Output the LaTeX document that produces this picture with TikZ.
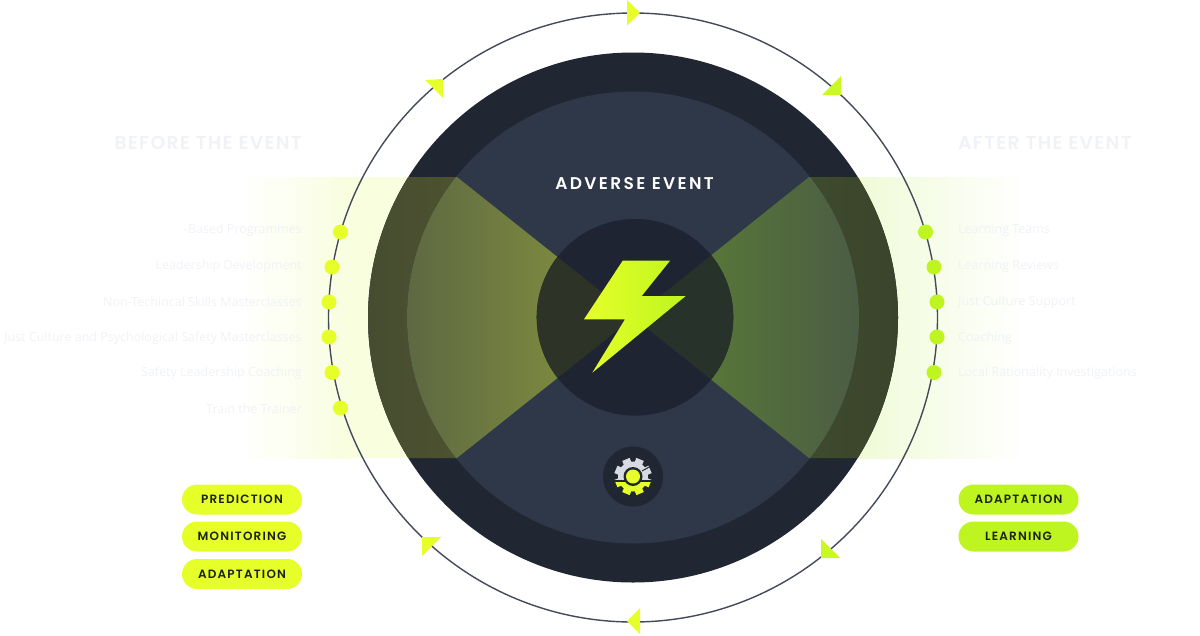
\documentclass[tikz,border=0pt]{standalone}
\usepackage{fontspec}
\usepackage{xcolor}
\setmainfont{Open Sans}
\newfontfamily\pillfont[LetterSpace=10]{Poppins SemiBold}
\newfontfamily\headfont[LetterSpace=7]{Poppins SemiBold}
\newfontfamily\titlefont[LetterSpace=14]{Poppins SemiBold}

\definecolor{ringgrey}{RGB}{68,74,90}
\definecolor{darknavy}{RGB}{32,38,50}
\definecolor{midnavy}{RGB}{46,56,72}
\definecolor{corenavy}{RGB}{30,36,50}
\definecolor{limeleft}{RGB}{230,255,40}
\definecolor{limeright}{RGB}{190,245,32}
\definecolor{palegrey}{RGB}{240,242,246}
\definecolor{pillink}{RGB}{28,32,30}
\definecolor{gearpale}{RGB}{215,218,224}
\definecolor{bandleft}{RGB}{248,254,222}
\definecolor{bandright}{RGB}{240,251,215}
\definecolor{ringleftA}{RGB}{70,76,48}
\definecolor{ringleftB}{RGB}{90,95,45}
\definecolor{ringrightA}{RGB}{70,88,46}
\definecolor{ringrightB}{RGB}{58,68,44}
\definecolor{midleftA}{RGB}{86,96,68}
\definecolor{midleftB}{RGB}{138,152,60}
\definecolor{midrightA}{RGB}{94,130,52}
\definecolor{midrightB}{RGB}{72,86,70}
\definecolor{coreleft}{RGB}{45,51,39}
\definecolor{coreright}{RGB}{38,50,42}

\tikzset{
	itemleft/.style={anchor=east, text=palegrey, font=\fontsize{12.5}{14}\selectfont, inner sep=0pt},
	itemright/.style={anchor=west, text=palegrey, font=\fontsize{12.5}{14}\selectfont, inner sep=0pt},
	headlabel/.style={text=palegrey, font=\fontsize{18.8}{20}\headfont, inner sep=0pt},
	dotleft/.style={circle, fill=limeleft, minimum size=15pt, inner sep=0pt},
	dotright/.style={circle, fill=limeright, minimum size=15pt, inner sep=0pt},
	pillbox/.style={rounded corners=15pt, minimum width=120pt, minimum height=30pt, inner sep=0pt, text=pillink, font=\fontsize{12}{14}\pillfont},
}

\newcommand{\wedgeleft}{(368, 177) -- (457, 177) -- (633.5, 317.5) -- (457, 458) -- (368, 458) -- cycle}
\newcommand{\wedgeright}{(898, 177) -- (809, 177) -- (633.5, 317.5) -- (809, 458) -- (898, 458) -- cycle}
\newcommand{\gearbody}[1]{
	\fill[#1] (633, 476.5) circle (15);
	\foreach \tooth in {0, 45, ..., 315} {
		\fill[#1, rotate around={\tooth+22.5:(633, 476.5)}] (629, 458) rectangle (637, 464);
	}
}

\begin{document}
\begin{tikzpicture}[x=1pt, y=-1pt]
	\useasboundingbox (0, 0) rectangle (1200, 635);

	\shade[left color=white, right color=bandleft] (240, 177) rectangle (350, 458);
	\fill[bandleft] (349.5, 177) rectangle (633, 458);
	\shade[left color=bandright, right color=white] (860, 177) rectangle (1026, 458);
	\fill[bandright] (633, 177) rectangle (860.5, 458);

	\fill[darknavy] (633, 317.5) circle (265);
	\begin{scope}
		\clip (633, 317.5) circle (265);
		\shade[left color=ringleftA, right color=ringleftB] \wedgeleft;
		\shade[left color=ringrightA, right color=ringrightB] \wedgeright;
	\end{scope}

	\fill[midnavy] (633, 317.5) circle (226);
	\begin{scope}
		\clip (633, 317.5) circle (226);
		\shade[left color=midleftA, right color=midleftB] \wedgeleft;
		\shade[left color=midrightA, right color=midrightB] \wedgeright;
	\end{scope}

	\fill[corenavy] (635, 317.3) circle (98.3);
	\begin{scope}
		\clip (635, 317.3) circle (98.3);
		\fill[coreleft] \wedgeleft;
		\fill[coreright] \wedgeright;
	\end{scope}

	\draw[ringgrey, line width=1.4pt] (633, 317.5) circle (304.5);

	\fill[limeleft] (627, 0) -- (640, 13) -- (627, 25.5) -- cycle;
	\fill[limeleft!30!limeright] (841, 76) -- (841, 95) -- (822, 95) -- cycle;
	\fill[limeleft!30!limeright] (821, 539) -- (840, 558) -- (821, 558) -- cycle;
	\fill[limeleft] (640, 608) -- (627, 621) -- (640, 634) -- cycle;
	\fill[limeleft] (422, 537) -- (441, 537) -- (422, 556) -- cycle;
	\fill[limeleft] (425, 80) -- (443, 79) -- (443, 98) -- cycle;

	\shade[left color=limeleft, right color=limeright] (622.7, 260.7) -- (670, 260.7) -- (641.7, 296) -- (685.7, 296) -- (592.3, 372.7) -- (625, 319.3) -- (584, 319.3) -- cycle;

	\node[text=white, font=\fontsize{17}{20}\titlefont, inner sep=0pt] at (634.5, 183.5) (adverse) {ADVERSE EVENT};

	\fill[darknavy] (633, 476.5) circle (30);
	\begin{scope}
		\clip (610, 450) rectangle (656, 479.5);
		\gearbody{gearpale}
	\end{scope}
	\begin{scope}
		\clip (610, 482.5) rectangle (656, 505);
		\gearbody{limeleft}
	\end{scope}
	\draw[darknavy, line width=1pt] (642, 471) -- (651, 466);
	\fill[darknavy] (633, 476.5) circle (9.5);
	\fill[limeleft] (633, 476.5) circle (7);

	\node[headlabel, anchor=east] at (302, 143) (before) {BEFORE THE EVENT};
	\node[headlabel, anchor=west] at (958, 143) (after) {AFTER THE EVENT};

	\node[itemleft] at (302, 230) (based) {-Based Programmes};
	\node[itemleft] at (302, 266) (leadership) {Leadership Development};
	\node[itemleft] at (302, 302) (nontechnical) {Non-Techincal Skills Masterclasses};
	\node[itemleft] at (302, 338) (justculture) {Just Culture and Psychological Safety Masterclasses};
	\node[itemleft] at (302, 373.5) (safety) {Safety Leadership Coaching};
	\node[itemleft] at (302, 409) (trainer) {Train the Trainer};

	\node[itemright] at (958, 230) (teams) {Learning Teams};
	\node[itemright] at (958, 266) (reviews) {Learning Reviews};
	\node[itemright] at (958, 302) (support) {Just Culture Support};
	\node[itemright] at (958, 338) (coaching) {Coaching};
	\node[itemright] at (958, 373.5) (rationality) {Local Rationality Investigations};

	\node[dotleft] at (340.5, 232) (l1) {};
	\node[dotleft] at (332, 267) (l2) {};
	\node[dotleft] at (329, 302) (l3) {};
	\node[dotleft] at (329, 337) (l4) {};
	\node[dotleft] at (332, 372.5) (l5) {};
	\node[dotleft] at (340.5, 408) (l6) {};

	\node[dotright] at (925.5, 232) (r1) {};
	\node[dotright] at (934, 267) (r2) {};
	\node[dotright] at (937, 302) (r3) {};
	\node[dotright] at (937, 337) (r4) {};
	\node[dotright] at (934, 372.5) (r5) {};

	\node[pillbox, fill=limeleft] at (242, 499.5) (prediction) {PREDICTION};
	\node[pillbox, fill=limeleft] at (242, 536.5) (monitoring) {MONITORING};
	\node[pillbox, fill=limeleft] at (242, 574) (adaptleft) {ADAPTATION};
	\node[pillbox, fill=limeright] at (1018.5, 499.5) (adaptright) {ADAPTATION};
	\node[pillbox, fill=limeright] at (1018.5, 536.5) (learning) {LEARNING};
\end{tikzpicture}
\end{document}
